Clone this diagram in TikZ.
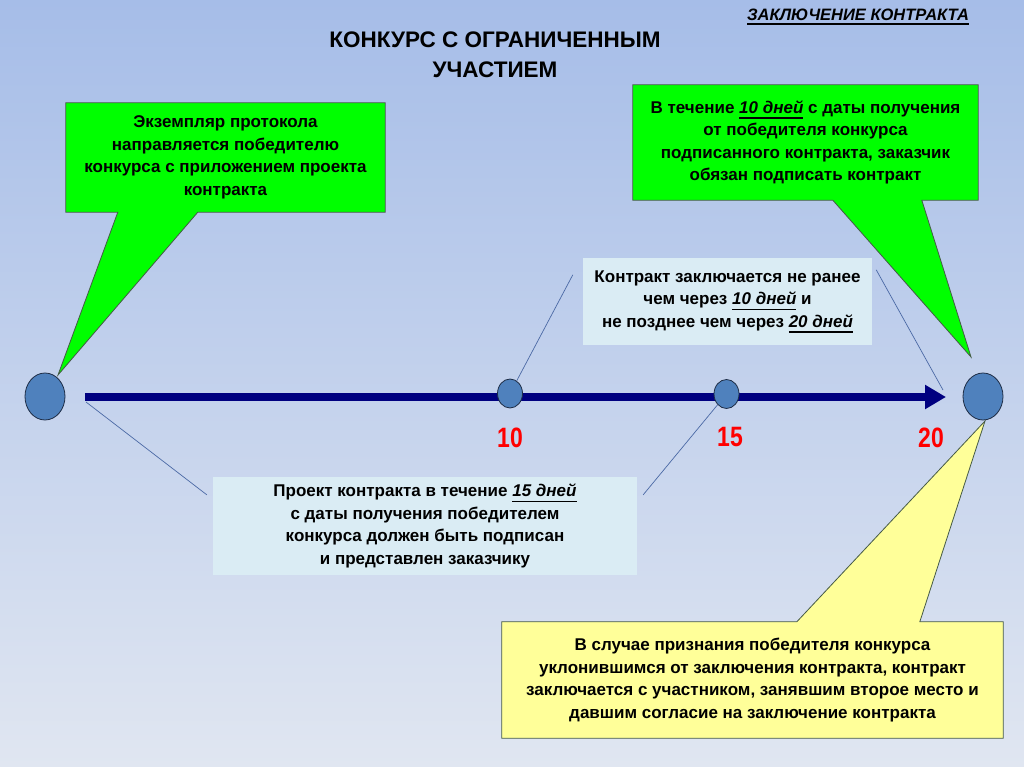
\documentclass[tikz,border=0pt]{standalone}
\usepackage{fontspec}
\setmainfont{Liberation Sans}
\newfontfamily\digitfont[FakeStretch=0.82]{Liberation Sans}
\usetikzlibrary{shapes.geometric,arrows.meta,calc}
\pgfdeclarelayer{bg}
\pgfdeclarelayer{shapes}
\pgfsetlayers{bg,shapes,main}
\definecolor{bgtop}{RGB}{166,189,232}
\definecolor{bgbot}{RGB}{224,230,241}
\definecolor{calloutgreen}{RGB}{0,255,0}
\definecolor{calloutyellow}{RGB}{255,255,153}
\definecolor{infobox}{RGB}{218,236,244}
\definecolor{dotblue}{RGB}{79,129,189}
\definecolor{dotedge}{RGB}{30,45,70}
\definecolor{shaftblue}{RGB}{0,0,128}
\definecolor{leader}{RGB}{75,105,165}
\definecolor{numred}{RGB}{255,0,0}
\definecolor{boxedge}{RGB}{70,90,70}
\newcommand\myul[3]{\leavevmode\setbox0\hbox{#3}\rlap{\hbox{\vrule width\wd0 height -#1 depth \dimexpr#1+#2\relax}}\box0\relax}
\newcommand\dni[1]{\myul{4pt}{1.4pt}{\textit{#1}}}
\tikzset{
  boxtext/.style={align=center, text=black, inner sep=0pt,
    font=\bfseries\fontsize{17}{22.5}\selectfont},
  greenshape/.style={fill=calloutgreen, draw=boxedge, line width=0.8pt, line join=miter},
  yellowshape/.style={fill=calloutyellow, draw=boxedge, line width=0.8pt, line join=miter},
  infonode/.style={boxtext, fill=infobox},
  bigdot/.style={ellipse, minimum width=40pt, minimum height=47pt, inner sep=0pt,
    fill=dotblue, draw=dotedge, line width=0.8pt},
  smalldot/.style={ellipse, minimum width=25pt, minimum height=29pt, inner sep=0pt,
    fill=dotblue, draw=dotedge, line width=0.8pt},
  shaft/.style={draw=shaftblue, line width=7.5pt,
    -{Triangle[length=21pt,width=23pt]}},
  leaderline/.style={draw=leader, line width=0.7pt},
  daynum/.style={text=numred, font=\digitfont\bfseries\fontsize{28}{28}\selectfont, inner sep=0pt},
}
\begin{document}
\begin{tikzpicture}[x=1pt,y=-1pt]
\begin{pgfonlayer}{bg}
\shade[top color=bgtop, bottom color=bgbot] (0,0) rectangle (1024,767);
\end{pgfonlayer}
\useasboundingbox (0,0) rectangle (1024,767);

% titles
\node[font=\bfseries\fontsize{22.5}{30}\selectfont, align=center, inner sep=0pt] (title) at (495,55)
  {КОНКУРС С ОГРАНИЧЕННЫМ\\УЧАСТИЕМ};
\node[font=\bfseries\fontsize{16.5}{16.5}\selectfont, inner sep=0pt, anchor=base] (hdr) at (858,21)
  {\myul{2.5pt}{2pt}{\textit{ЗАКЛЮЧЕНИЕ КОНТРАКТА}}};

% timeline points
\node[bigdot] (cL) at (45,396.5) {};
\node[bigdot] (cR) at (983,396.5) {};
\coordinate (shaftstart) at (85,397);
\coordinate (shaftend) at (946,397);
\draw[shaft] (shaftstart) -- (shaftend);
\node[smalldot] (c10) at (510,393.5) {};
\node[smalldot] (c15) at (726.5,394) {};

\node[daynum] (n10) at (510,438) {10};
\node[daynum] (n15) at (730,437) {15};
\node[daynum] (n20) at (931,438) {20};

% callout boxes
\node[boxtext, minimum width=319pt, minimum height=109pt] (g1) at (225.5,157.5)
  {\rule{0pt}{4pt}Экземпляр протокола\\направляется победителю\\конкурса с приложением проекта\\контракта};
\node[boxtext, minimum width=345pt, minimum height=115pt] (g2) at (805.5,142.5)
  {В течение \dni{10 дней} с даты получения\\от победителя конкурса\\подписанного контракта, заказчик\\обязан подписать контракт};
\node[boxtext, minimum width=501pt, minimum height=116pt] (yb) at (752.5,680)
  {В случае признания победителя конкурса\\уклонившимся от заключения контракта, контракт\\заключается с участником, занявшим второе место и\\давшим согласие на заключение контракта};

\coordinate (pL) at (58,375);
\coordinate (pR) at (971,357);
\coordinate (pY) at (985,421);
\begin{pgfonlayer}{shapes}
\draw[greenshape] (g1.north west) -- (g1.north east) -- (g1.south east)
  -- ($(g1.south west)+(132,0)$) -- (pL) -- ($(g1.south west)+(52,0)$) -- (g1.south west) -- cycle;
\draw[greenshape] (g2.north west) -- (g2.north east) -- (g2.south east)
  -- ($(g2.south west)+(289,0)$) -- (pR) -- ($(g2.south west)+(200,0)$) -- (g2.south west) -- cycle;
\draw[yellowshape] (yb.south west) -- (yb.north west) -- ($(yb.north west)+(295,0)$)
  -- (pY) -- ($(yb.north west)+(418,0)$) -- (yb.north east) -- (yb.south east) -- cycle;
\end{pgfonlayer}

% info boxes
\node[infonode, minimum width=289pt, minimum height=87pt] (tb) at (727.5,301.5)
  {Контракт заключается не ранее\\чем через \dni{10 дней} и\\не позднее чем через \dni{20 дней}};
\node[infonode, minimum width=424pt, minimum height=98pt] (bb) at (425,526)
  {Проект контракта в течение \dni{15 дней}\\с даты получения победителем\\конкурса должен быть подписан\\и представлен заказчику};

% leader lines
\coordinate (tbL) at ([xshift=-10pt,yshift=-17pt]tb.north west);
\coordinate (tbR) at ([xshift=4pt,yshift=-12pt]tb.north east);
\coordinate (tipR) at (943,390);
\coordinate (startL) at (86,402);
\coordinate (bbL) at ([xshift=-6pt,yshift=-18pt]bb.north west);
\coordinate (bbR) at ([xshift=6pt,yshift=-18pt]bb.north east);
\draw[leaderline] (c10) -- (tbL);
\draw[leaderline] (tbR) -- (tipR);
\draw[leaderline] (startL) -- (bbL);
\draw[leaderline] (c15) -- (bbR);
\end{tikzpicture}
\end{document}
